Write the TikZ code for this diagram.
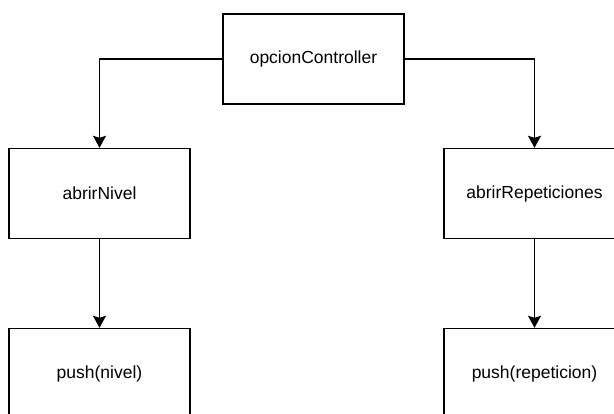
\documentclass[tikz,border=0pt]{standalone}
\usepackage{fontspec}
\setmainfont{Liberation Sans}
\usetikzlibrary{positioning,arrows.meta}

\begin{document}
\begin{tikzpicture}[x=1pt,y=1pt,on grid,
    caja/.style={draw,line width=1.4pt,minimum width=181pt,minimum height=90pt,
      inner sep=0pt,font=\fontsize{17.5}{20}\selectfont},
    flecha/.style={line width=1.4pt,-{Stealth[length=12pt,width=13pt,inset=2pt]}}]
    \useasboundingbox (0,0) rectangle (614,-414);
            \node[caja] (opcion) at (313.5,-59) {opcionController};
            \node[caja, below left=134.5pt and 214pt of opcion] (nivel) {abrirNivel};
            \node[caja, below right=134.5pt and 221pt of opcion] (repes) {abrirRepeticiones};
            \node[caja, below=180pt of nivel] (pushN) {push(nivel)};
            \node[caja, below=180pt of repes] (pushR) {push(repeticion)};
            \path[flecha]
            (opcion) edge[to path={-| (\tikztotarget)}] (nivel)
            (opcion) edge[to path={-| (\tikztotarget)}] (repes)
            (nivel) edge (pushN)
            (repes) edge (pushR);
        \end{tikzpicture}
\end{document}
